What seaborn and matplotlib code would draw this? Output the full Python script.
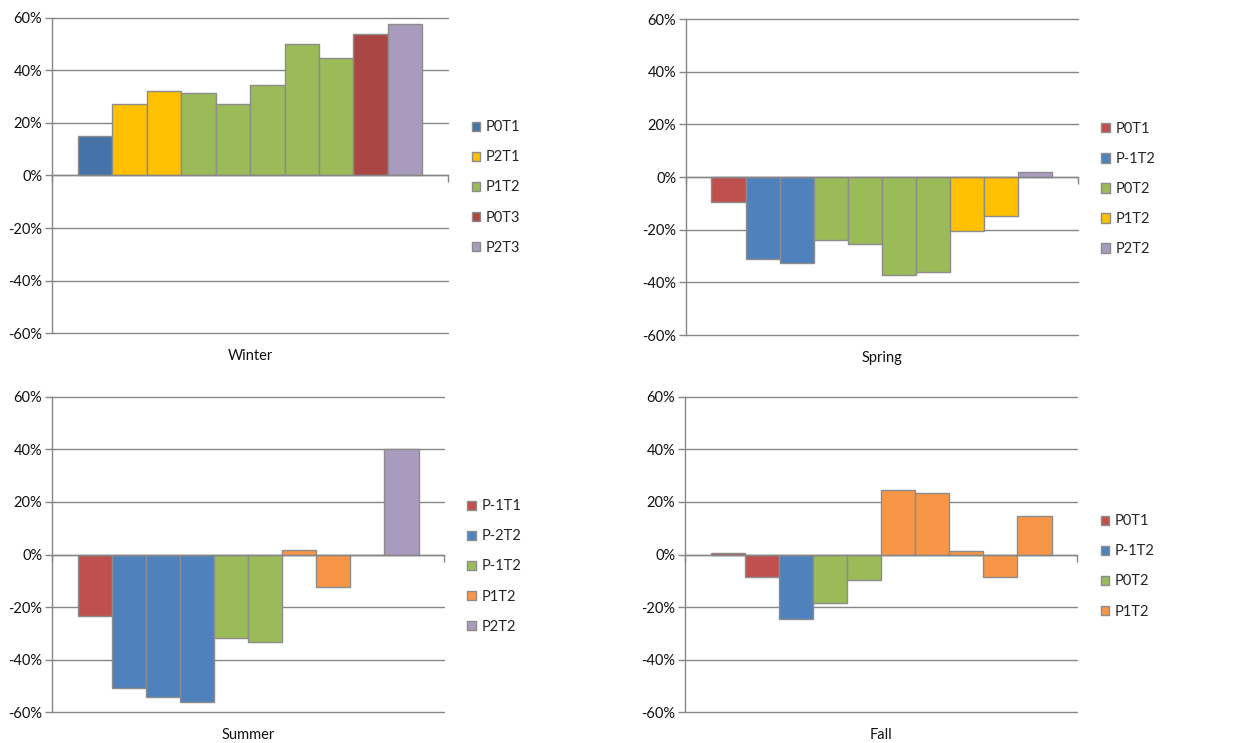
import matplotlib
matplotlib.use("Agg")
import matplotlib.pyplot as plt
from matplotlib.patches import Patch
import seaborn as sns
import pandas as pd

# ---------------- data ----------------
seasons = ["Winter", "Spring", "Summer", "Fall"]

winter_values = [15.0, 27.1, 32.0, 31.6, 27.4, 34.6, 50.1, 44.7, 54.0, 57.7]
winter_series = ["P0T1", "P2T1", "P2T1", "P1T2", "P1T2", "P1T2", "P1T2", "P1T2", "P0T3", "P2T3"]
winter_legend = ["P0T1", "P2T1", "P1T2", "P0T3", "P2T3"]

spring_values = [-9.6, -31.0, -32.7, -23.8, -25.3, -37.1, -36.2, -20.3, -14.9, 1.8]
spring_series = ["P0T1", "P-1T2", "P-1T2", "P0T2", "P0T2", "P0T2", "P0T2", "P1T2", "P1T2", "P2T2"]
spring_legend = ["P0T1", "P-1T2", "P0T2", "P1T2", "P2T2"]

summer_values = [-23.5, -50.7, -54.1, -56.3, -31.8, -33.2, 1.8, -12.3, -0.3, 40.0]
summer_series = ["P-1T1", "P-2T2", "P-2T2", "P-2T2", "P-1T2", "P-1T2", "P1T2", "P1T2", "P1T2", "P2T2"]
summer_legend = ["P-1T1", "P-2T2", "P-1T2", "P1T2", "P2T2"]

fall_values = [0.4, -8.4, -24.5, -18.6, -9.9, 24.5, 23.6, 1.3, -8.6, 14.7]
fall_series = ["P0T1", "P0T1", "P-1T2", "P0T2", "P0T2", "P1T2", "P1T2", "P1T2", "P1T2", "P1T2"]
fall_legend = ["P0T1", "P-1T2", "P0T2", "P1T2"]

yticks = [-60, -40, -20, 0, 20, 40, 60]

# colours per series, per panel
winter_colors = {"P0T1": "#4572A7", "P2T1": "#FFC000", "P1T2": "#9BBB59",
                 "P0T3": "#AA4643", "P2T3": "#A99BBD"}
spring_colors = {"P0T1": "#C0504D", "P-1T2": "#4F81BD", "P0T2": "#9BBB59",
                 "P1T2": "#FFC000", "P2T2": "#A99BBD"}
summer_colors = {"P-1T1": "#C0504D", "P-2T2": "#4F81BD", "P-1T2": "#9BBB59",
                 "P1T2": "#F79646", "P2T2": "#A99BBD"}
fall_colors = {"P0T1": "#C0504D", "P-1T2": "#4F81BD", "P0T2": "#9BBB59",
               "P1T2": "#F79646"}

panels = [
    ("Winter", winter_values, winter_series, winter_legend, winter_colors),
    ("Spring", spring_values, spring_series, spring_legend, spring_colors),
    ("Summer", summer_values, summer_series, summer_legend, summer_colors),
    ("Fall", fall_values, fall_series, fall_legend, fall_colors),
]

# ---------------- style ----------------
sns.set_theme(style="white")
plt.rcParams["font.family"] = ["Lato", "DejaVu Sans"]
GRID = "#878787"
EDGE = "#8C8C8C"

fig = plt.figure(figsize=(12.6, 7.43), dpi=100)
positions = [
    [0.0413, 0.5518, 0.3143, 0.4240],
    [0.5444, 0.5490, 0.3111, 0.4254],
    [0.0413, 0.0417, 0.3111, 0.4240],
    [0.5437, 0.0417, 0.3111, 0.4240],
]

for (name, vals, series, legend_names, cmap), pos in zip(panels, positions):
    ax = fig.add_axes(pos)
    ids = [f"b{i}" for i in range(len(vals))]
    df = pd.DataFrame({"season": [name] * len(vals), "value": vals, "bar": ids})
    pal = {bid: cmap[s] for bid, s in zip(ids, series)}
    sns.barplot(data=df, x="season", y="value", hue="bar", hue_order=ids,
                palette=pal, dodge=True, width=0.87, saturation=1,
                edgecolor=EDGE, linewidth=1.0, legend=False, ax=ax, errorbar=None)
    ax.set_xlim(-0.5, 0.5)
    ax.set_ylim(-60, 60)
    ax.set_yticks(yticks)
    ax.set_yticklabels([f"{t}%" for t in yticks], fontsize=10.5, color="#111111")
    ax.yaxis.grid(True, color=GRID, linewidth=1.0)
    for gl in ax.get_ygridlines():
        gl.set_clip_on(False)
    ax.set_axisbelow(True)
    for sp in ["top", "right"]:
        ax.spines[sp].set_visible(False)
    ax.spines["left"].set_color(GRID)
    ax.spines["left"].set_linewidth(1.0)
    ax.spines["bottom"].set_position(("data", 0))
    ax.spines["bottom"].set_color(GRID)
    ax.spines["bottom"].set_linewidth(1.0)
    ax.set_xticks([-0.5, 0.5])
    ax.set_xticklabels(["", ""])
    ax.tick_params(axis="x", direction="out", length=5, color=GRID, width=1, bottom=True)
    ax.tick_params(axis="y", direction="out", length=5, color=GRID, width=1, left=True, pad=2)
    ax.set_xlabel("")
    ax.set_ylabel("")
    ax.text(0.5, -0.072, name, transform=ax.transAxes, ha="center", va="center",
            fontsize=10.5, color="#111111")
    handles = [Patch(facecolor=cmap[s], edgecolor=EDGE, linewidth=1.0, label=s)
               for s in legend_names]
    ax.legend(handles=handles, loc="center left", bbox_to_anchor=(1.045, 0.462),
              frameon=False, fontsize=10.5, labelspacing=1.1, handlelength=0.6,
              handleheight=0.6, handletextpad=0.35, borderaxespad=0)

fig.savefig("out.png", dpi=100, facecolor="white")
